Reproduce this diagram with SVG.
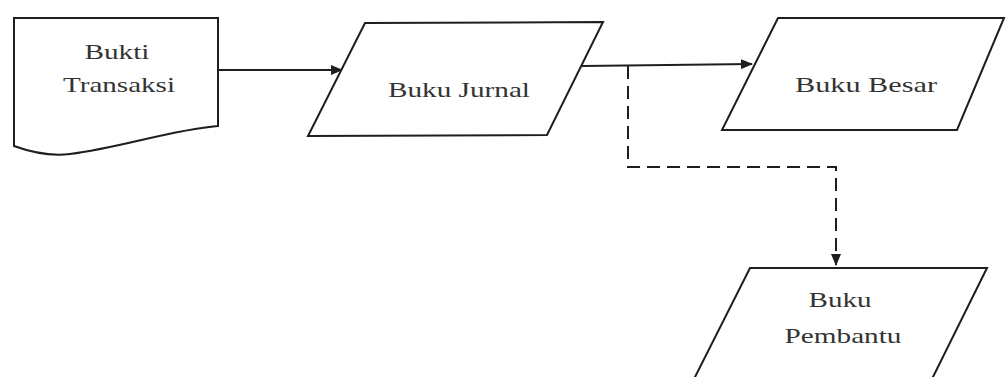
<svg xmlns="http://www.w3.org/2000/svg" width="1006" height="377" viewBox="0 0 1006 377">
<style>
.shape{fill:#ffffff;stroke:#1e1e1e;stroke-width:2}
.lbl{font-family:"Liberation Serif","Times New Roman",serif;font-size:22px;fill:#333;text-anchor:middle}
.conn{fill:none;stroke:#1e1e1e;stroke-width:2}
.dash{stroke-dasharray:13 7}
</style>
<defs>
<marker id="arr" markerWidth="12" markerHeight="10" refX="11" refY="5" orient="auto" markerUnits="userSpaceOnUse">
<path d="M0,0 L12,5 L0,10 Z" fill="#1e1e1e"/>
</marker>
</defs>
<rect width="1006" height="377" fill="#ffffff"/>
<g id="connectors">
<line class="conn" x1="218" y1="70" x2="342" y2="70" marker-end="url(#arr)"/>
<line class="conn" x1="582" y1="66" x2="752" y2="64" marker-end="url(#arr)"/>
<polyline class="conn dash" points="628,66 628,167 836,167 836,265" marker-end="url(#arr)"/>
</g>
<g id="bukti-transaksi">
<path class="shape" d="M14,18 L218,18 L218,126 C170,130 120,148 70,154 C45,157 25,150 14,146 Z"/>
<text class="lbl" x="117" y="59" textLength="65" lengthAdjust="spacingAndGlyphs">Bukti</text>
<text class="lbl" x="119" y="92" textLength="112" lengthAdjust="spacingAndGlyphs">Transaksi</text>
</g>
<g id="buku-jurnal">
<path class="shape" d="M365,23 L603,22 L547,135 L308,136 Z"/>
<text class="lbl" x="459" y="97" textLength="142" lengthAdjust="spacingAndGlyphs">Buku Jurnal</text>
</g>
<g id="buku-besar">
<path class="shape" d="M778,18 L1004,18 L957,130 L722,130 Z"/>
<text class="lbl" x="866" y="92" textLength="142" lengthAdjust="spacingAndGlyphs">Buku Besar</text>
</g>
<g id="buku-pembantu">
<path class="shape" d="M750,268 L987,268 L931,381 L693,381 Z"/>
<text class="lbl" x="840" y="307" textLength="63" lengthAdjust="spacingAndGlyphs">Buku</text>
<text class="lbl" x="843" y="343" textLength="117" lengthAdjust="spacingAndGlyphs">Pembantu</text>
</g>
</svg>
